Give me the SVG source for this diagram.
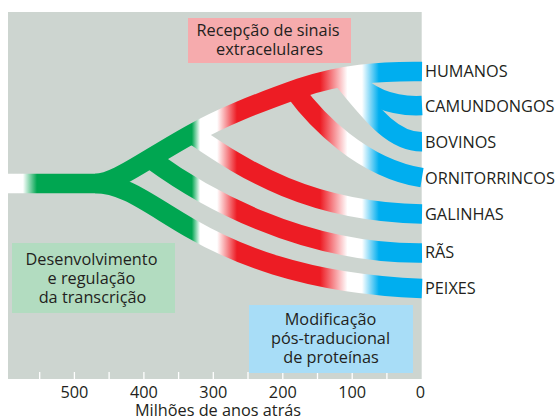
<svg xmlns="http://www.w3.org/2000/svg" width="559" height="420" viewBox="0 0 559 420">
<style>
  text { font-family: "Open Sans", "Liberation Sans", sans-serif; font-size: 16.3px; fill: #231f20; }
  .lbl { text-anchor: start; }
  .mid { text-anchor: middle; }
  .br { fill: none; stroke: url(#bandGrad); stroke-width: 19.5; stroke-linecap: butt; stroke-linejoin: round; }
  .tick { stroke: #ffffff; stroke-width: 1.3; }
</style>
<defs>
  <linearGradient id="bandGrad" gradientUnits="userSpaceOnUse" x1="8" y1="0" x2="422" y2="0">
    <stop offset="0" stop-color="#ffffff"/>
    <stop offset="0.036" stop-color="#ffffff"/>
    <stop offset="0.07" stop-color="#00a651"/>
    <stop offset="0.444" stop-color="#00a651"/>
    <stop offset="0.464" stop-color="#ffffff"/>
    <stop offset="0.505" stop-color="#ffffff"/>
    <stop offset="0.553" stop-color="#ed1c24"/>
    <stop offset="0.754" stop-color="#ed1c24"/>
    <stop offset="0.820" stop-color="#ffffff"/>
    <stop offset="0.855" stop-color="#ffffff"/>
    <stop offset="0.896" stop-color="#00aeef"/>
    <stop offset="1" stop-color="#00aeef"/>
  </linearGradient>
</defs>

<rect id="background" x="8" y="12" width="413.7" height="367" fill="#cdd5d0"/>

<g id="axis-ticks">
  <line class="tick" x1="39.7" y1="372" x2="39.7" y2="379"/>
  <line class="tick" x1="74.4" y1="372" x2="74.4" y2="379"/>
  <line class="tick" x1="109.1" y1="372" x2="109.1" y2="379"/>
  <line class="tick" x1="143.9" y1="372" x2="143.9" y2="379"/>
  <line class="tick" x1="178.6" y1="372" x2="178.6" y2="379"/>
  <line class="tick" x1="213.3" y1="372" x2="213.3" y2="379"/>
  <line class="tick" x1="248" y1="372" x2="248" y2="379"/>
  <line class="tick" x1="282.8" y1="372" x2="282.8" y2="379"/>
  <line class="tick" x1="317.5" y1="372" x2="317.5" y2="379"/>
  <line class="tick" x1="352.2" y1="372" x2="352.2" y2="379"/>
  <line class="tick" x1="386.9" y1="372" x2="386.9" y2="379"/>
</g>

<g id="connectors">
  <path id="br-peixes" class="br" d="M95,183.5 C125,183.5 150,205 190,228 C230,251 300,284 422,288.5"/>
  <path id="br-ras" class="br" d="M152,160 C200,195 300,254 422,253"/>
  <path id="br-galinhas" class="br" d="M195,136 C245,170 310,212 422,214"/>
  <path id="br-ornitorrincos" class="br" d="M294,90 C316,120 362,168 422,177.7"/>
  <path id="br-bovinos" class="br" d="M342,78 C370,112 392,142 422,141.7"/>
  <path id="br-camundongos" class="br" d="M350,77 C368,97 392,107 422,105.5"/>
  <path id="br-humanos" class="br" d="M8,183.5 H95 C115,183.5 140,163 190,135 C222,117 255,104 300,88 C340,74 380,71 422,71.5"/>
</g>

<g id="box-recepcao">
  <rect x="188" y="18" width="163" height="45" fill="#f6abad"/>
  <text class="mid" x="268" y="36">Recepção de sinais</text>
  <text class="mid" x="269.5" y="55">extracelulares</text>
</g>

<g id="box-desenvolvimento">
  <rect x="12" y="243" width="163" height="70" fill="#b2dcc0"/>
  <text class="mid" x="91.5" y="265">Desenvolvimento</text>
  <text class="mid" x="91.5" y="284">e regulação</text>
  <text class="mid" x="92.5" y="302.5">da transcrição</text>
</g>

<g id="box-modificacao">
  <rect x="249" y="305" width="164" height="68" fill="#a8ddf7"/>
  <text class="mid" x="330.5" y="325">Modificação</text>
  <text class="mid" x="330.5" y="343.5">pós-traducional</text>
  <text class="mid" x="331" y="362.5">de proteínas</text>
</g>

<g id="leaf-humanos"><text class="lbl" x="425" y="77">HUMANOS</text></g>
<g id="leaf-camundongos"><text class="lbl" x="425" y="111.7">CAMUNDONGOS</text></g>
<g id="leaf-bovinos"><text class="lbl" x="425" y="148">BOVINOS</text></g>
<g id="leaf-ornitorrincos"><text class="lbl" x="425" y="183.5">ORNITORRINCOS</text></g>
<g id="leaf-galinhas"><text class="lbl" x="425" y="220">GALINHAS</text></g>
<g id="leaf-ras"><text class="lbl" x="425" y="258">RÃS</text></g>
<g id="leaf-peixes"><text class="lbl" x="425" y="294">PEIXES</text></g>

<g id="axis-labels">
  <text class="mid" x="74.4" y="397.5">500</text>
  <text class="mid" x="143.9" y="397.5">400</text>
  <text class="mid" x="213.3" y="397.5">300</text>
  <text class="mid" x="282.8" y="397.5">200</text>
  <text class="mid" x="352.2" y="397.5">100</text>
  <text class="mid" x="420.5" y="397.5">0</text>
  <text class="mid" x="218" y="416">Milhões de anos atrás</text>
</g>
</svg>
